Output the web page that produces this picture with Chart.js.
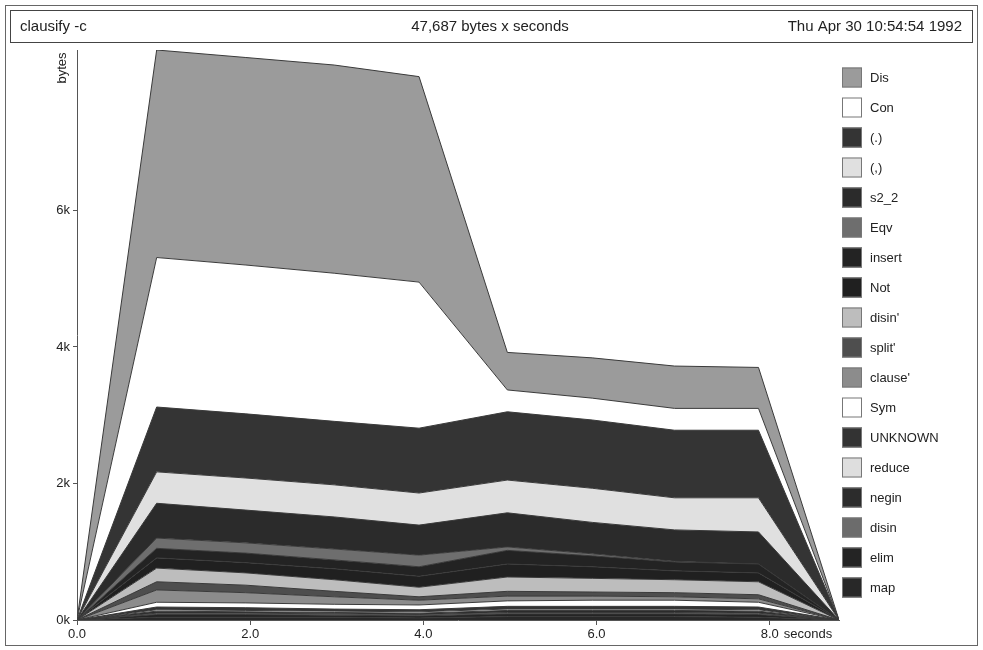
<!DOCTYPE html>
<html>
<head>
<meta charset="utf-8">
<script src="https://cdn.jsdelivr.net/npm/chart.js@4/dist/chart.umd.min.js"></script>
<style>
  html, body { margin: 0; padding: 0; background: #fff; }
  #wrap { width: 983px; height: 650px; }
</style>
</head>
<body>
<div id="wrap"><canvas id="c" width="983" height="650"></canvas></div>
<script>
// clausify -c heap profile, bytes by cost centre (stacked from bottom)

const times = [0, 0.92, 1.95, 2.97, 3.95, 4.97, 5.95, 6.9, 7.87, 8.8];

const names = ['map', 'elim', 'disin', 'negin', 'reduce', 'UNKNOWN', 'Sym', "clause'",
  "split'", "disin'", 'Not', 'insert', 'Eqv', 's2_2', '(,)', '(.)', 'Con', 'Dis'];

const mapBytes     = [0, 40, 40, 40, 30, 50, 50, 50, 40, 0];
const elimBytes    = [0, 40, 40, 30, 30, 40, 40, 40, 40, 0];
const disinBytes   = [0, 20, 20, 20, 20, 20, 20, 20, 20, 0];
const neginBytes   = [0, 30, 20, 20, 20, 30, 30, 30, 30, 0];
const reduceBytes  = [0, 20, 20, 20, 20, 20, 20, 20, 20, 0];
const unknownBytes = [0, 40, 40, 30, 30, 40, 40, 40, 40, 0];
const symBytes     = [0, 70, 70, 70, 70, 80, 90, 90, 70, 0];
const clauseBytes  = [0, 180, 150, 110, 70, 70, 60, 50, 50, 0];
const splitBytes   = [0, 120, 110, 80, 50, 70, 60, 60, 60, 0];
const disin2Bytes  = [0, 200, 180, 170, 140, 210, 200, 190, 190, 0];
const notBytes     = [0, 150, 150, 160, 160, 190, 170, 130, 130, 0];
const insertBytes  = [0, 140, 140, 130, 140, 200, 160, 130, 130, 0];
const eqvBytes     = [0, 150, 150, 160, 170, 50, 30, 10, 0, 0];
const s22Bytes     = [0, 510, 480, 470, 440, 500, 460, 460, 470, 0];
const commaBytes   = [0, 460, 470, 470, 470, 480, 500, 470, 500, 0];
const dotBytes     = [0, 950, 940, 930, 950, 1000, 1000, 990, 990, 0];
const conBytes     = [0, 2190, 2180, 2170, 2140, 320, 320, 320, 320, 0];
const disBytes     = [0, 3040, 3040, 3050, 3010, 550, 590, 620, 600, 0];

const yTicks = [0, 2000, 4000, 6000];
const xTicks = [0, 2, 4, 6, 8];

const series = [mapBytes, elimBytes, disinBytes, neginBytes, reduceBytes, unknownBytes,
  symBytes, clauseBytes, splitBytes, disin2Bytes, notBytes, insertBytes, eqvBytes,
  s22Bytes, commaBytes, dotBytes, conBytes, disBytes];

const colors = ['#282828', '#242424', '#6c6c6c', '#2c2c2c', '#dedede', '#333333',
  '#ffffff', '#8c8c8c', '#4e4e4e', '#bdbdbd', '#202020', '#232323', '#6e6e6e',
  '#2b2b2b', '#e0e0e0', '#343434', '#ffffff', '#9b9b9b'];

const FONT = '"Liberation Sans", Arial, sans-serif';
const INK = '#222';

const datasets = series.map((vals, i) => ({
  label: names[i],
  data: vals.map((v, j) => ({ x: times[j], y: v })),
  backgroundColor: colors[i],
  borderColor: '#3a3a3a',
  borderWidth: 1,
  pointRadius: 0,
  tension: 0,
  fill: i === 0 ? 'origin' : '-1',
}));

// title box, axis captions and the legend column
const decor = {
  id: 'decor',
  afterDraw(chart) {
    const ctx = chart.ctx;
    const area = chart.chartArea;
    ctx.save();
    ctx.strokeStyle = '#666';
    ctx.lineWidth = 1;
    ctx.strokeRect(5.5, 5.5, 972, 640);
    ctx.strokeStyle = '#444';
    ctx.strokeRect(10.5, 10.5, 962, 32);

    ctx.fillStyle = INK;
    ctx.font = '15px ' + FONT;
    ctx.textBaseline = 'middle';
    ctx.textAlign = 'left';
    ctx.fillText('clausify -c', 20, 27);
    ctx.textAlign = 'center';
    ctx.fillText('47,687 bytes x seconds', 490, 27);
    ctx.textAlign = 'right';
    ctx.fillText('Thu Apr 30 10:54:54 1992', 962, 27);

    ctx.font = '13px ' + FONT;
    ctx.textAlign = 'left';
    ctx.fillText('seconds', chart.scales.x.getPixelForValue(8) + 14, 634);

    ctx.save();
    ctx.translate(62, area.top + 18);
    ctx.rotate(-Math.PI / 2);
    ctx.textAlign = 'center';
    ctx.fillText('bytes', 0, 0);
    ctx.restore();

    // legend, top of stack first
    const n = chart.data.datasets.length;
    for (let k = 0; k < n; k++) {
      const ds = chart.data.datasets[n - 1 - k];
      const cy = 77.5 + k * 30;
      ctx.fillStyle = ds.backgroundColor;
      ctx.fillRect(842, cy - 10, 20, 20);
      ctx.strokeStyle = '#777';
      ctx.strokeRect(842.5, cy - 9.5, 19, 19);
      ctx.fillStyle = INK;
      ctx.fillText(ds.label, 870, cy + 1);
    }
    ctx.restore();
  },
};

new Chart(document.getElementById('c'), {
  type: 'line',
  data: { datasets },
  plugins: [decor],
  options: {
    responsive: false,
    animation: false,
    layout: { padding: { top: 50, left: 0, right: 144, bottom: 0 } },
    plugins: {
      legend: { display: false },
      tooltip: { enabled: false },
      filler: { propagate: false },
    },
    scales: {
      x: {
        type: 'linear',
        min: 0,
        max: 8.8,
        afterBuildTicks: s => { s.ticks = xTicks.map(v => ({ value: v })); },
        afterFit: s => { s.height = 30; },
        grid: { drawOnChartArea: false, tickLength: 5, color: '#555' },
        border: { color: '#555' },
        ticks: {
          color: INK,
          padding: 2,
          maxRotation: 0,
          font: { family: FONT, size: 13 },
          callback: v => Number(v).toFixed(1),
        },
      },
      y: {
        stacked: true,
        min: 0,
        max: 8350,
        afterBuildTicks: s => { s.ticks = yTicks.map(v => ({ value: v })); },
        afterFit: s => { s.width = 77; },
        grid: { drawOnChartArea: false, tickLength: 4, color: '#555' },
        border: { color: '#555' },
        ticks: {
          color: INK,
          padding: 3,
          font: { family: FONT, size: 13 },
          callback: v => (v / 1000) + 'k',
        },
      },
    },
  },
});
</script>
</body>
</html>
